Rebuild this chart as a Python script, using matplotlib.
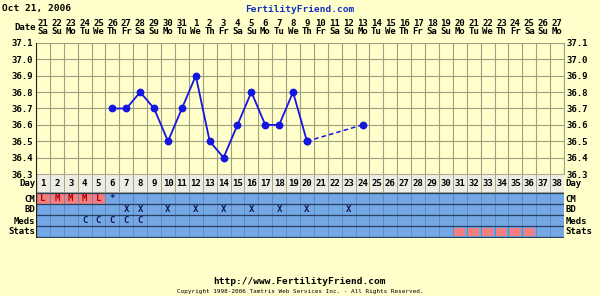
import matplotlib
matplotlib.use("Agg")
import matplotlib.pyplot as plt
import numpy as np

# chart data
dates = ["21", "22", "23", "24", "25", "26", "27", "28", "29", "30", "31",
         "1", "2", "3", "4", "5", "6", "7", "8", "9", "10", "11", "12", "13",
         "14", "15", "16", "17", "18", "19", "20", "21", "22", "23", "24",
         "25", "26", "27"]
weekdays = ["Sa", "Su", "Mo", "Tu", "We", "Th", "Fr"]
temp_days = [6, 7, 8, 9, 10, 11, 12, 13, 14, 15, 16, 17, 18, 19, 20]
temps = [36.7, 36.7, 36.8, 36.7, 36.5, 36.7, 36.9, 36.5, 36.4, 36.6, 36.8,
         36.6, 36.6, 36.8, 36.5]
gap_days = [20, 24]
gap_temps = [36.5, 36.6]
cm_days = [1, 2, 3, 4, 5, 6]
cm_marks = ["L", "M", "M", "M", "L", "*"]
bd_days = [7, 8, 10, 12, 14, 16, 18, 20, 23]
meds_days = [4, 5, 6, 7, 8]
stats_days = [31, 32, 33, 34, 35, 36]
yticks = [36.3, 36.4, 36.5, 36.6, 36.7, 36.8, 36.9, 37.0, 37.1]

ndays = len(dates)
bg = "#FFFFCC"
gridc = "#A09F80"
blue_row = "#73A7E6"
red_cell = "#F28080"
font = "DejaVu Sans Mono"

W, H = 600, 296
fig = plt.figure(figsize=(W / 100, H / 100), dpi=100, facecolor=bg)

def box(x0, y0, x1, y1):
    return [x0 / W, 1 - y1 / H, (x1 - x0) / W, (y1 - y0) / H]

L, R = 36, 564

# temperature axes
ax = fig.add_axes(box(L, 43, R, 174))
ax.set_facecolor(bg)
ax.set_xlim(0.5, ndays + 0.5)
ax.set_ylim(36.3, 37.1)
for d in range(ndays + 1):
    ax.axvline(d + 0.5, color=gridc, lw=0.8, zorder=1)
for t in yticks:
    ax.axhline(t, color=gridc, lw=0.8, zorder=1)
ax.plot(temp_days, temps, color="#1515E0", lw=1.3, marker="o", ms=4.6, zorder=3)
ax.plot(gap_days, gap_temps, color="#1515E0", lw=1.1, ls=(0, (3, 2)), marker="o", ms=4.6, zorder=3)
ax.set_xticks([])
ax.set_yticks(yticks)
ax.set_yticklabels([f"{t:.1f}" for t in yticks], fontfamily=font, fontweight="bold", fontsize=6.5)
ax.tick_params(axis="y", length=0, pad=2, labelright=True, labelleft=True)
for s in ax.spines.values():
    s.set_visible(False)
ax.spines["left"].set_visible(True)
ax.spines["left"].set_color("#222222")
ax.spines["right"].set_visible(True)
ax.spines["right"].set_color(gridc)

# header date rows
for i, d in enumerate(dates):
    ax.text(i + 1, 37.1 + 0.122, d, ha="center", va="center", fontfamily=font,
            fontweight="bold", fontsize=6.5, clip_on=False)
    ax.text(i + 1, 37.1 + 0.068, weekdays[i % 7], ha="center", va="center", fontfamily=font,
            fontweight="bold", fontsize=6.5, clip_on=False)
ax.text(0.47, 37.1 + 0.095, "Date", ha="right", va="center", fontfamily=font,
        fontweight="bold", fontsize=6.5, clip_on=False)

# lower rows axes (pixel units inside)
bx = fig.add_axes(box(L, 174, R, 238))
bx.set_xlim(0.5, ndays + 0.5)
bx.set_ylim(64, 0)
bx.set_axis_off()
days = np.arange(1, ndays + 1)
rows = [("Day", 0, 18), ("CM", 19, 30), ("BD", 30, 41), ("Meds", 41, 52), ("Stats", 52, 63)]
bx.bar(days, 18, bottom=0, width=1, color="#EDEDE4", edgecolor=gridc, lw=0.6, align="center")
for name, y0, y1 in rows[1:]:
    bx.bar(days, y1 - y0, bottom=y0, width=1, color=blue_row, edgecolor="#5F86B8", lw=0.6)
    bx.plot([0.5, ndays + 0.5], [y0, y0], color="#2A3F60", lw=0.9)
bx.plot([0.5, ndays + 0.5], [63, 63], color="#2A3F60", lw=0.9)
bx.plot([0.5, 0.5], [0, 63], color="#222222", lw=1)
# red cells
bx.bar(cm_days[:5], 11, bottom=19, width=1, color=red_cell, edgecolor="#5F86B8", lw=0.6)
bx.bar(stats_days, 8, bottom=53.5, width=0.8, color=red_cell, lw=0)
for i, d in enumerate(days):
    bx.text(d, 9.5, str(d), ha="center", va="center", fontfamily=font, fontweight="bold", fontsize=6.5)
for d, m in zip(cm_days, cm_marks):
    bx.text(d, 24.7, m, ha="center", va="center", fontfamily=font, fontweight="bold",
            fontsize=6.5, color="#B00000" if m != "*" else "#101060")
for d in bd_days:
    bx.text(d, 35.7, "X", ha="center", va="center", fontfamily=font, fontweight="bold",
            fontsize=6.5, color="#101850")
for d in meds_days:
    bx.text(d, 46.7, "C", ha="center", va="center", fontfamily=font, fontweight="bold",
            fontsize=6.5, color="#101850")
for name, y0, y1 in rows:
    yc = (y0 + y1) / 2 + 0.5
    bx.text(0.45, yc, name, ha="right", va="center", fontfamily=font, fontweight="bold", fontsize=6.5)
    bx.text(ndays + 0.62, yc, name, ha="left", va="center", fontfamily=font, fontweight="bold", fontsize=6.5)

# titles and footer
fig.text(2 / W, 1 - 9 / H, "Oct 21, 2006", ha="left", va="center", fontfamily=font,
         fontweight="bold", fontsize=6.8)
fig.text(300 / W, 1 - 9 / H, "FertilityFriend.com", ha="center", va="center", fontfamily=font,
         fontweight="bold", fontsize=6.8, color="#1030C0")
fig.text(300 / W, 1 - 282 / H, "http://www.FertilityFriend.com", ha="center", va="center",
         fontfamily=font, fontweight="bold", fontsize=6.8)
fig.text(300 / W, 1 - 292 / H, "Copyright 1998-2006 Tamtris Web Services Inc. - All Rights Reserved.",
         ha="center", va="center", fontfamily=font, fontsize=4.3)

fig.savefig("out.png", dpi=100, facecolor=bg)
